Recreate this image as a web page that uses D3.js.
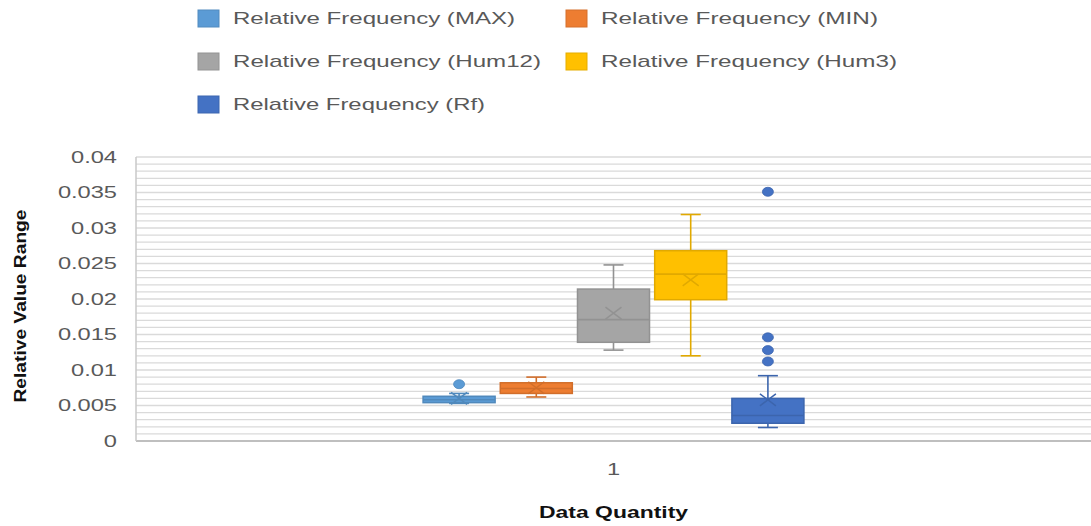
<!DOCTYPE html>
<html>
<head>
<meta charset="utf-8">
<script src="https://cdn.jsdelivr.net/npm/d3@7"></script>
<style>
  html, body { margin: 0; padding: 0; background: #fff; }
  svg { display: block; font-family: "Liberation Sans", Arial, sans-serif; }
</style>
</head>
<body>
<svg id="chart" width="1091" height="526"></svg>
<script>
// Series and their box statistics
const categories = ["1"];
const seriesNames = [
  "Relative Frequency (MAX)",
  "Relative Frequency (MIN)",
  "Relative Frequency (Hum12)",
  "Relative Frequency (Hum3)",
  "Relative Frequency (Rf)"
];
const seriesColors = ["#5B9BD5", "#ED7D31", "#A5A5A5", "#FFC000", "#4472C4"];
const whiskerLow  = [0.0053, 0.0062, 0.0128, 0.0120, 0.0019];
const q1          = [0.0054, 0.0067, 0.0139, 0.0199, 0.0025];
const median      = [0.0058, 0.0074, 0.0171, 0.0235, 0.0036];
const q3          = [0.0063, 0.0082, 0.0214, 0.0268, 0.0060];
const whiskerHigh = [0.0067, 0.0090, 0.0248, 0.0319, 0.0092];
const mean        = [0.0060, 0.0075, 0.0180, 0.0227, 0.0058];
const outliers    = [[0.0080], [], [], [], [0.0351, 0.0146, 0.0128, 0.0112]];
const yTicks = [0, 0.005, 0.01, 0.015, 0.02, 0.025, 0.03, 0.035, 0.04];
const yTickLabels = ["0", "0.005", "0.01", "0.015", "0.02", "0.025", "0.03", "0.035", "0.04"];
const yTitle = "Relative Value Range";
const xTitle = "Data Quantity";

const svg = d3.select("#chart");
const plot = { left: 136, right: 1091, top: 157, bottom: 441 };
const textGray = "#595959";
const stretch = 1.39; // horizontal text width factor

const y = d3.scaleLinear().domain([0, 0.04]).range([plot.bottom, plot.top]);
const x = d3.scaleBand().domain(categories).range([plot.left, plot.right])
  .paddingInner(0).paddingOuter(0.737);
const xs = d3.scaleBand().domain(seriesNames).range([0, x.bandwidth()])
  .paddingInner(0.067).paddingOuter(0.0335);

// minor gridlines every 0.001
const gridVals = d3.range(0, 41).map(i => i / 1000);
svg.append("g").selectAll("line").data(gridVals).join("line")
  .attr("x1", plot.left).attr("x2", plot.right)
  .attr("y1", d => y(d)).attr("y2", d => y(d))
  .attr("stroke", "#dadada").attr("stroke-width", 1.3);

// axis lines
svg.append("line").attr("x1", plot.left).attr("x2", plot.right)
  .attr("y1", y(0)).attr("y2", y(0)).attr("stroke", "#bfbfbf").attr("stroke-width", 2);
svg.append("line").attr("x1", plot.left).attr("x2", plot.left)
  .attr("y1", y(0.04)).attr("y2", y(0)).attr("stroke", "#c8c8c8").attr("stroke-width", 1.5);

// y axis labels, widened around their right edge
const yAxis = d3.axisLeft(y).tickValues(yTicks)
  .tickFormat((d, i) => yTickLabels[i]).tickSize(0).tickPadding(0);
const yg = svg.append("g").attr("transform", `translate(${plot.left - 19},0)`).call(yAxis);
yg.select(".domain").remove();
yg.selectAll("text").attr("fill", textGray).style("font-size", "17px").attr("x", 0);
yg.selectAll(".tick").each(function () {
  const t = d3.select(this);
  t.attr("transform", t.attr("transform") + ` scale(${stretch},1)`);
});

// x axis label
const xAxis = d3.axisBottom(x).tickSize(0).tickPadding(0);
const xg = svg.append("g").attr("transform", `translate(0,${plot.bottom + 22})`).call(xAxis);
xg.select(".domain").remove();
xg.selectAll(".tick").each(function () {
  const t = d3.select(this);
  t.attr("transform", t.attr("transform") + ` scale(${stretch},1)`);
});
xg.selectAll("text").attr("fill", textGray).style("font-size", "17px").attr("dy", "0.71em")
  .attr("y", 0);

// titles
svg.append("text")
  .attr("transform", `translate(${x(categories[0]) + x.bandwidth() / 2},518) scale(${stretch},1)`)
  .attr("text-anchor", "middle").attr("font-weight", "bold").style("font-size", "16.5px")
  .attr("fill", "#111").text(xTitle);
svg.append("text")
  .attr("transform", `translate(26,306) rotate(-90)`)
  .attr("text-anchor", "middle").attr("font-weight", "bold").style("font-size", "17px")
  .attr("fill", "#111").attr("textLength", 193).attr("lengthAdjust", "spacingAndGlyphs")
  .text(yTitle);

// boxes
const boxes = seriesNames.map((name, i) => ({
  name, color: seriesColors[i],
  lo: whiskerLow[i], q1: q1[i], med: median[i], q3: q3[i], hi: whiskerHigh[i],
  mean: mean[i], out: outliers[i]
}));
const cx0 = x(categories[0]);
const bw = xs.bandwidth();
const capHalf = 10;

const g = svg.append("g").selectAll("g").data(boxes).join("g")
  .attr("transform", d => `translate(${cx0 + xs(d.name)},0)`);

g.each(function (d) {
  const s = d3.select(this);
  const edge = d3.color(d.color).darker(0.35).formatHex();
  const mid = bw / 2;
  // whiskers
  s.append("line").attr("x1", mid).attr("x2", mid).attr("y1", y(d.hi)).attr("y2", y(d.q3))
    .attr("stroke", edge).attr("stroke-width", 1.6);
  s.append("line").attr("x1", mid).attr("x2", mid).attr("y1", y(d.q1)).attr("y2", y(d.lo))
    .attr("stroke", edge).attr("stroke-width", 1.6);
  s.append("line").attr("x1", mid - capHalf).attr("x2", mid + capHalf)
    .attr("y1", y(d.hi)).attr("y2", y(d.hi)).attr("stroke", edge).attr("stroke-width", 1.6);
  s.append("line").attr("x1", mid - capHalf).attr("x2", mid + capHalf)
    .attr("y1", y(d.lo)).attr("y2", y(d.lo)).attr("stroke", edge).attr("stroke-width", 1.6);
  // box
  s.append("rect").attr("x", 0).attr("width", bw)
    .attr("y", y(d.q3)).attr("height", y(d.q1) - y(d.q3))
    .attr("fill", d.color).attr("stroke", edge).attr("stroke-width", 1.5);
  // median
  s.append("line").attr("x1", 0).attr("x2", bw).attr("y1", y(d.med)).attr("y2", y(d.med))
    .attr("stroke", edge).attr("stroke-width", 1.6);
  // mean marker
  const my = y(d.mean), hx = 8, hy = 6;
  s.append("path")
    .attr("d", `M${mid - hx},${my - hy}L${mid + hx},${my + hy}M${mid - hx},${my + hy}L${mid + hx},${my - hy}`)
    .attr("stroke", edge).attr("stroke-width", 1.5).attr("fill", "none");
  // outliers
  s.selectAll("ellipse").data(d.out).join("ellipse")
    .attr("cx", mid).attr("cy", v => y(v)).attr("rx", 5.5).attr("ry", 4.5)
    .attr("fill", d.color).attr("stroke", edge).attr("stroke-width", 0.8);
});

// legend
const legendPos = [
  { x: 198, y: 18 }, { x: 566, y: 18 },
  { x: 198, y: 61 }, { x: 566, y: 61 },
  { x: 198, y: 104 }
];
const legendTextLen = [282, 277, 308, 296, 252];
const lg = svg.append("g").selectAll("g").data(boxes).join("g")
  .attr("transform", (d, i) => `translate(${legendPos[i].x},${legendPos[i].y})`);
lg.append("rect").attr("x", 0).attr("y", -8).attr("width", 21).attr("height", 17)
  .attr("fill", d => d.color).attr("stroke", d => d3.color(d.color).darker(0.3).formatHex())
  .attr("stroke-width", 1);
lg.append("text").attr("x", 35).attr("y", 0).attr("dy", "0.35em")
  .attr("fill", textGray).style("font-size", "17px")
  .attr("textLength", (d, i) => legendTextLen[i]).attr("lengthAdjust", "spacingAndGlyphs")
  .text(d => d.name);
</script>
</body>
</html>
